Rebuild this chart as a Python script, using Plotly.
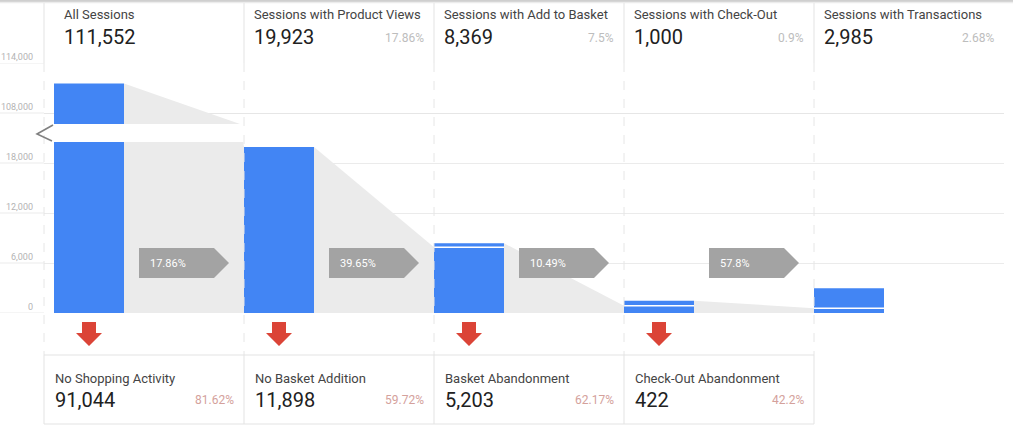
import plotly.graph_objects as go

# ---------------- data ----------------
stages = ["All Sessions", "Sessions with Product Views", "Sessions with Add to Basket",
          "Sessions with Check-Out", "Sessions with Transactions"]
stage_values = ["111,552", "19,923", "8,369", "1,000", "2,985"]
stage_pct = ["", "17.86%", "7.5%", "0.9%", "2.68%"]
from_previous = [111552, 19923, 7890, 880, 580]      # lower (blue) part, carried from previous step
new_entrants = [0, 0, 479, 600, 2405]                # upper part above the white split
conversion = ["17.86%", "39.65%", "10.49%", "57.8%"]
dropoff_labels = ["No Shopping Activity", "No Basket Addition", "Basket Abandonment", "Check-Out Abandonment"]
dropoff_values = ["91,044", "11,898", "5,203", "422"]
dropoff_pct = ["81.62%", "59.72%", "62.17%", "42.2%"]
ticks_low = [0, 6000, 12000, 18000]
ticks_high = [108000, 114000]

# ---------------- geometry ----------------
W, H = 1013, 426
COL = 190.0
BW = 70 / COL
FONT = "Roboto"
BLUE = "#4285f4"
GREY_FILL = "#ebebeb"
LINE = "#e3e3e3"

def PX(px):
    return px / W

def PY(py):
    return 1 - py / H

low_range = [0, 20520]
high_range = [106680, 114000]

totals = [a + b for a, b in zip(from_previous, new_entrants)]
idx = list(range(len(stages)))

fig = go.Figure()

# funnel fills (bottom part, clipped by axis)
for i in range(len(stages) - 1):
    fig.add_trace(go.Scatter(
        x=[i + BW, i + 1, i + 1, i + BW, i + BW],
        y=[totals[i], from_previous[i + 1], 0, 0, totals[i]],
        mode="lines", line=dict(width=0), fill="toself", fillcolor=GREY_FILL,
        hoverinfo="skip", showlegend=False, xaxis="x", yaxis="y"))
# funnel fill in the upper (broken) part
fig.add_trace(go.Scatter(
    x=[BW, 186 / COL, BW, BW],
    y=[totals[0], high_range[0], high_range[0], totals[0]],
    mode="lines", line=dict(width=0), fill="toself", fillcolor=GREY_FILL,
    hoverinfo="skip", showlegend=False, xaxis="x", yaxis="y2"))

for ya in ["y", "y2"]:
    fig.add_trace(go.Bar(x=idx, y=from_previous, offset=0, width=BW,
                         marker=dict(color=BLUE, line=dict(width=0)),
                         showlegend=False, hoverinfo="skip", xaxis="x", yaxis=ya))
    fig.add_trace(go.Bar(x=idx, y=new_entrants, base=from_previous, offset=0, width=BW,
                         marker=dict(color=BLUE, line=dict(width=0)),
                         showlegend=False, hoverinfo="skip", xaxis="x", yaxis=ya))

shapes = []
annotations = []

# white split lines in bars
for i in idx:
    if new_entrants[i] > 0:
        shapes.append(dict(type="line", xref="x", yref="y", x0=i, x1=i + BW,
                           y0=from_previous[i], y1=from_previous[i],
                           line=dict(color="white", width=1.5), layer="above"))

# grey conversion arrows
for i, c in enumerate(conversion):
    xa, xb, xt = i + 85 / COL, i + 160 / COL, i + 175 / COL
    yc, hh = 6000, 1800
    path = f"M {xa},{yc-hh} L {xb},{yc-hh} L {xt},{yc} L {xb},{yc+hh} L {xa},{yc+hh} Z"
    shapes.append(dict(type="path", xref="x", yref="y", path=path,
                       fillcolor="#a3a3a3", line=dict(width=0), layer="above"))
    annotations.append(dict(x=i + 94 / COL, y=yc, xref="x", yref="y", text=c,
                            showarrow=False, xanchor="left", yanchor="middle",
                            font=dict(family=FONT, size=11, color="white")))

# red drop arrows
for i in range(len(dropoff_labels)):
    cx = i + 35 / COL
    hw, sw = 13 / COL, 7 / COL
    yt, yh, yb = PY(322), PY(333), PY(346)
    path = (f"M {cx-sw},{yt} L {cx+sw},{yt} L {cx+sw},{yh} L {cx+hw},{yh} "
            f"L {cx},{yb} L {cx-hw},{yh} L {cx-sw},{yh} Z")
    shapes.append(dict(type="path", xref="x", yref="paper", path=path,
                       fillcolor="#db4437", line=dict(width=0)))

# vertical dashed column lines through the plot area
for px in [44, 244, 434, 624, 814]:
    shapes.append(dict(type="line", xref="paper", yref="paper", x0=PX(px), x1=PX(px),
                       y0=PY(63), y1=PY(355), line=dict(color="#e6e6e6", width=1, dash="dash")))
    # header separators
    shapes.append(dict(type="line", xref="paper", yref="paper", x0=PX(px), x1=PX(px),
                       y0=PY(0), y1=PY(63), line=dict(color=LINE, width=1)))

# gridline stubs left of the plot area
for t in ticks_low:
    shapes.append(dict(type="line", xref="paper", yref="y", x0=0, x1=PX(44), y0=t, y1=t,
                       line=dict(color="#ebebeb", width=1)))
for t in ticks_high:
    shapes.append(dict(type="line", xref="paper", yref="y2", x0=0, x1=PX(44), y0=t, y1=t,
                       line=dict(color="#ebebeb", width=1)))

# footer boxes
shapes.append(dict(type="rect", xref="paper", yref="paper", x0=PX(44), x1=PX(814),
                   y0=PY(424), y1=PY(355), line=dict(color=LINE, width=1)))
for px in [244, 434, 624]:
    shapes.append(dict(type="line", xref="paper", yref="paper", x0=PX(px), x1=PX(px),
                       y0=PY(424), y1=PY(355), line=dict(color=LINE, width=1)))

# top shadow
shapes.append(dict(type="line", xref="paper", yref="paper", x0=0, x1=1, y0=PY(1), y1=PY(1),
                   line=dict(color="#cfcfcf", width=2)))
shapes.append(dict(type="line", xref="paper", yref="paper", x0=0, x1=1, y0=PY(2.5), y1=PY(2.5),
                   line=dict(color="#ececec", width=1.5)))

# axis-break mark
shapes.append(dict(type="path", xref="paper", yref="paper",
                   path=f"M {PX(53)},{PY(125)} L {PX(37)},{PY(134)} L {PX(52)},{PY(141)}",
                   line=dict(color="#808080", width=1.6)))

# header texts
for i, s in enumerate(stages):
    annotations.append(dict(x=i + 8 / COL, y=PY(15), xref="x", yref="paper", text=s,
                            showarrow=False, xanchor="left", yanchor="middle",
                            font=dict(family=FONT, size=13, color="#444444")))
    annotations.append(dict(x=i + 8 / COL, y=PY(37), xref="x", yref="paper", text=stage_values[i],
                            showarrow=False, xanchor="left", yanchor="middle",
                            font=dict(family=FONT, size=20, color="#212121")))
    if stage_pct[i]:
        annotations.append(dict(x=i + 182 / COL, y=PY(38), xref="x", yref="paper", text=stage_pct[i],
                                showarrow=False, xanchor="right", yanchor="middle",
                                font=dict(family=FONT, size=12, color="#bdbdbd")))

# footer texts (first box starts 10px left of its column)
for i, s in enumerate(dropoff_labels):
    fx = (-1 / COL) if i == 0 else (i + 9 / COL)
    annotations.append(dict(x=fx, y=PY(378), xref="x", yref="paper", text=s,
                            showarrow=False, xanchor="left", yanchor="middle",
                            font=dict(family=FONT, size=13, color="#444444")))
    annotations.append(dict(x=fx, y=PY(400), xref="x", yref="paper", text=dropoff_values[i],
                            showarrow=False, xanchor="left", yanchor="middle",
                            font=dict(family=FONT, size=20, color="#212121")))
    annotations.append(dict(x=i + 182 / COL, y=PY(400), xref="x", yref="paper", text=dropoff_pct[i],
                            showarrow=False, xanchor="right", yanchor="middle",
                            font=dict(family=FONT, size=12, color="#d4a19c")))

fig.update_layout(
    width=W, height=H, margin=dict(l=0, r=0, t=0, b=0, autoexpand=False),
    paper_bgcolor="white", plot_bgcolor="white", barmode="overlay",
    showlegend=False, shapes=shapes, annotations=annotations,
    font=dict(family=FONT),
    xaxis=dict(domain=[PX(44), PX(1004)], range=[-10 / COL, 950 / COL], visible=False,
               fixedrange=True, anchor="y", automargin=False),
    yaxis=dict(domain=[PY(313), PY(142)], range=low_range, tickvals=ticks_low,
               ticktext=[f"{v:,}" for v in ticks_low], ticklabelposition="outside top",
               ticklabelstandoff=10, automargin=False,
               gridcolor="#ebebeb", zeroline=False, showline=False, ticks="",
               tickfont=dict(family=FONT, size=9, color="#b3b3b3"), anchor="x", fixedrange=True),
    yaxis2=dict(domain=[PY(124), PY(63)], range=high_range, tickvals=ticks_high,
                ticktext=[f"{v:,}" for v in ticks_high], ticklabelposition="outside top",
                ticklabelstandoff=10, automargin=False,
                gridcolor="#e6e6e6", zeroline=False, showline=False, ticks="",
                tickfont=dict(family=FONT, size=9, color="#b3b3b3"), anchor="x", fixedrange=True),
)

fig.write_html("out.html", config={"displayModeBar": False},
               post_script="document.body.style.margin='0';document.body.style.overflow='hidden';")
